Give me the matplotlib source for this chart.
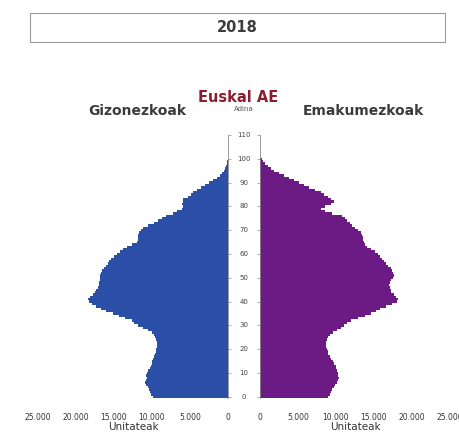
import matplotlib
matplotlib.use("Agg")
import matplotlib.pyplot as plt
from matplotlib.patches import Rectangle
from matplotlib.ticker import FuncFormatter
import matplotlib.transforms as mtransforms

W, H = 459, 438

ages = list(range(0, 101))

gizonezkoak = [
    9850, 10160, 10260, 10360, 10570, 10770, 10880, 10770, 10670, 10770,
    10670, 10470, 10260, 10160, 10060, 9950, 9850, 9750, 9540, 9440,
    9440, 9340, 9340, 9340, 9440, 9540, 9750, 10060, 10570, 11180,
    11800, 12310, 12620, 13540, 14360, 15180, 16010, 16720, 17340, 17850,
    18260, 18370, 18160, 17750, 17440, 17340, 17130, 17030, 16930, 16830,
    16830, 16830, 16720, 16520, 16310, 16000, 15800, 15600, 15450, 15000,
    14600, 14200, 13800, 13350, 12600, 12000, 11900, 11850, 11800, 11750,
    11400, 11200, 10500, 9800, 9200, 8700, 8100, 7200, 6700, 6100,
    5900, 6000, 5950, 5900, 5300, 4900, 4600, 4100, 3500, 3000,
    2450, 1950, 1500, 1100, 800, 580, 400, 270, 170, 100,
    60,
]

emakumezkoak = [
    8900, 9200, 9300, 9500, 9700, 9900, 10100, 10300, 10400, 10300,
    10200, 10100, 10000, 10000, 9800, 9600, 9400, 9200, 9000, 8900,
    8800, 8700, 8700, 8700, 8800, 8900, 9200, 9600, 10100, 10600,
    11100, 11500, 12000, 12900, 13800, 14600, 15300, 15800, 16600, 17400,
    18000, 18200, 17900, 17600, 17300, 17200, 17100, 17000, 17100, 17300,
    17500, 17600, 17500, 17400, 17200, 16900, 16600, 16300, 16100, 15800,
    15500, 15100, 14600, 14100, 13800, 13700, 13600, 13500, 13400, 13300,
    12900, 12500, 12100, 11800, 11500, 11200, 10800, 9500, 8500, 8000,
    8600, 9400, 9700, 9300, 8900, 8400, 8000, 7200, 6500, 5800,
    5100, 4500, 3800, 3100, 2500, 1900, 1400, 1000, 650, 400,
    250,
]

x_ticks = [0, 5000, 10000, 15000, 20000, 25000]
age_ticks = list(range(0, 111, 10))

blue = "#2b4ea6"
purple = "#6c1a84"
text_gray = "#3c3c3c"

fig = plt.figure(figsize=(W / 100, H / 100), dpi=100)

def fx(px):
    return px / W

def fy(py):
    return 1 - py / H

y_bot, y_top = 398, 135
axL = fig.add_axes([fx(38), fy(y_bot), fx(228 - 38), (y_bot - y_top) / H])
axR = fig.add_axes([fx(260), fy(y_bot), fx(450 - 260), (y_bot - y_top) / H])

axL.barh(ages, gizonezkoak, height=1.0, color=blue, linewidth=0)
axR.barh(ages, emakumezkoak, height=1.0, color=purple, linewidth=0)

axL.set_xlim(25000, 0)
axR.set_xlim(0, 25000)
for ax in (axL, axR):
    ax.set_ylim(-0.5, 110)
    ax.set_xticks(x_ticks)
    ax.xaxis.set_major_formatter(FuncFormatter(lambda v, p: f"{int(v):,}".replace(",", ".")))
    ax.tick_params(axis="x", length=0, labelsize=5.5, labelcolor="#333333", pad=11)
    for s in ax.spines.values():
        s.set_visible(False)
    ax.set_yticks(age_ticks)
    ax.set_yticklabels([])
    ax.set_xlabel("Unitateak", fontsize=7.5, color="#333333", labelpad=0)

axL.spines["right"].set_visible(True)
axL.spines["right"].set_color("#8a8a8a")
axL.spines["right"].set_linewidth(0.6)
axL.yaxis.tick_right()
axL.tick_params(axis="y", length=2, width=0.5, color="#8a8a8a", direction="out")
axR.spines["left"].set_visible(True)
axR.spines["left"].set_color("#8a8a8a")
axR.spines["left"].set_linewidth(0.6)
axR.tick_params(axis="y", length=2, width=0.5, color="#8a8a8a", direction="out")

trans = mtransforms.blended_transform_factory(fig.transFigure, axL.transData)
for a in age_ticks:
    fig.text(fx(244), a, str(a), transform=trans, ha="center", va="center",
             fontsize=5, color="#444444")

# header box
fig.patches.append(Rectangle((fx(30), fy(42)), fx(445 - 30), (42 - 13) / H,
                             transform=fig.transFigure, facecolor="white",
                             edgecolor="#9a9a9a", linewidth=0.8))
fig.text(fx(237), fy(27), "2018", ha="center", va="center", fontsize=10.5,
         fontweight="bold", color=text_gray)

fig.text(fx(238), fy(98), "Euskal AE", ha="center", va="center", fontsize=10.5,
         fontweight="bold", color="#8b1d2e")
fig.text(fx(137), fy(111), "Gizonezkoak", ha="center", va="center", fontsize=10,
         fontweight="bold", color=text_gray)
fig.text(fx(363), fy(111), "Emakumezkoak", ha="center", va="center", fontsize=10,
         fontweight="bold", color=text_gray)
fig.text(fx(244), fy(109), "Adina", ha="center", va="center", fontsize=5,
         color="#555555")

fig.savefig("out.png", dpi=100)
